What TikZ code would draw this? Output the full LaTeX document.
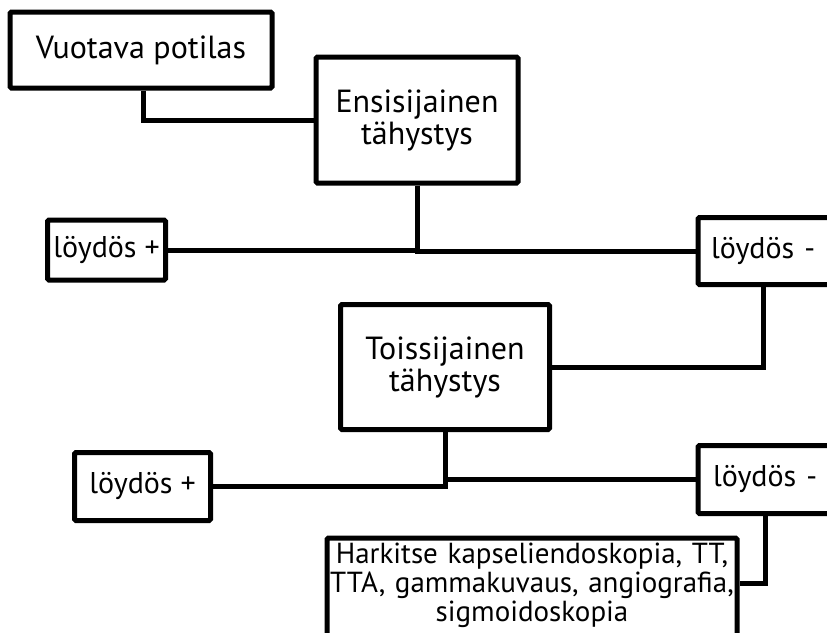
\documentclass[tikz,border=0pt]{standalone}
\usepackage{fontspec}
\setmainfont{PT Sans}
\begin{document}
\begin{tikzpicture}[x=1pt,y=-1pt,
  box/.style={draw=black, line width=5pt, rounded corners=1.5pt, inner sep=0pt, align=center, fill=white},
  conn/.style={draw=black, line width=5pt},
  big/.style={font=\fontsize{32}{32}\selectfont},
  mid/.style={font=\fontsize{30}{32}\selectfont}]
\useasboundingbox (0,0) rectangle (827,632);
\fill[white] (0,0) rectangle (827,632);
\node[box, big, minimum width=262pt, minimum height=76pt] (b1) at (141,50) {Vuotava potilas};
\node[box, big, minimum width=202pt, minimum height=126pt] (e1) at (417,120) {Ensisijainen\\tähystys};
\node[box, mid, minimum width=118pt, minimum height=60pt] (lp1) at (106.5,250) {löydös +};
\node[box, mid, anchor=west, align=left, text width=150pt, inner xsep=13pt, minimum height=67pt] (lm1) at (695.5,251) {löydös -};
\node[box, big, minimum width=209pt, minimum height=125pt] (t2) at (445,367) {Toissijainen\\tähystys};
\node[box, mid, minimum width=136pt, minimum height=68pt] (lp2) at (142.5,486.5) {löydös +};
\node[box, mid, anchor=west, align=left, text width=150pt, inner xsep=15pt, minimum height=68pt] (lm2) at (695.5,479.5) {löydös -};
\node[box, anchor=north west, text width=410pt, inner xsep=0pt, inner ysep=5pt, text depth=78pt, font=\fontsize{29}{29}\selectfont] (h) at (324.5,535.5) {Harkitse kapseliendoskopia, TT,\\TTA, gammakuvaus, angiografia,\\sigmoidoskopia};
\coordinate (lm1b) at ([xshift=68pt]lm1.south west);
\coordinate (lm2b) at ([xshift=70pt]lm2.south west);
\coordinate (hr) at ([yshift=-48pt]h.north east);
\draw[conn] ([xshift=2pt]b1.south) |- (e1.west);
\draw[conn] (e1.south) |- (lp1.east);
\draw[conn] (e1.south) |- (lm1.west);
\draw[conn] (lm1b) |- (t2.east);
\draw[conn] (t2.south) |- (lp2.east);
\draw[conn] (t2.south) |- (lm2.west);
\draw[conn] (lm2b) |- (hr);
\end{tikzpicture}
\end{document}
